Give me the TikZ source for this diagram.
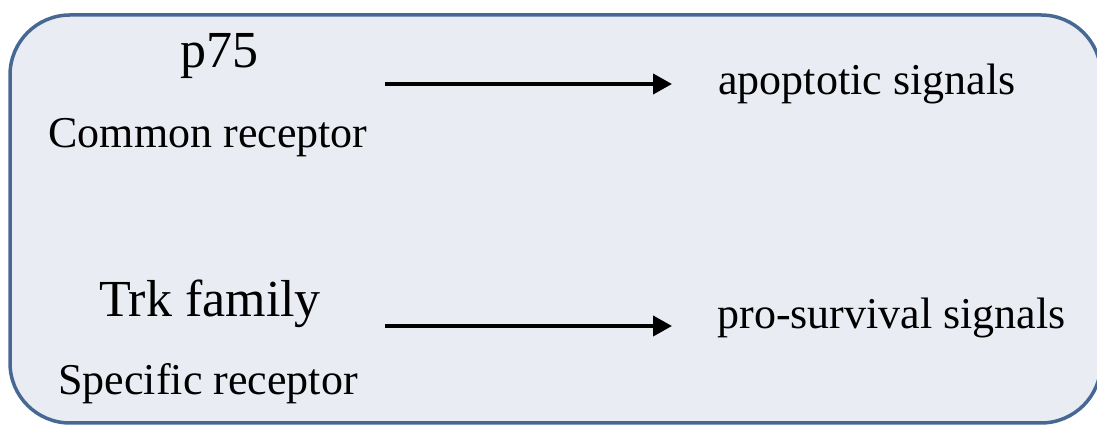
\documentclass[tikz,border=0pt]{standalone}
\usepackage{fontspec}
\setmainfont{Liberation Serif}
\usepackage{tikz}
\usetikzlibrary{arrows.meta,positioning}
\definecolor{panelfill}{RGB}{233,236,242}
\definecolor{paneldraw}{RGB}{72,104,148}

\begin{document}
\begin{tikzpicture}[x=0.5pt,y=-0.5pt,>={Triangle[length=9.5pt,width=10pt]},
  bigtxt/.style={inner sep=0pt,font=\fontsize{26}{30}\selectfont},
  smalltxt/.style={inner sep=0pt,font=\fontsize{22}{26}\selectfont},
  sig/.style={->,line width=2pt}]
\useasboundingbox (0,0) rectangle (1097,426);
\draw[paneldraw,fill=panelfill,line width=1.75pt,rounded corners=30pt] (10,15) rectangle (1101,423);
% receptors
\node[bigtxt,anchor=base] (p75) at (219,68) {p75};
\node[smalltxt,anchor=base] (common) at (208,148) {Common receptor};
\node[bigtxt,anchor=base] (trk) at (210,317) {Trk family};
\node[smalltxt,anchor=base] (specific) at (208,395) {Specific receptor};
% signals
\node[smalltxt,anchor=base west] (apo) at (718,95) {apoptotic signals};
\node[smalltxt,anchor=base west] (surv) at (717,329) {pro-survival signals};
\coordinate (s1) at (385,84);
\coordinate (s2) at (385,326);
\draw[sig,shorten >=23pt] (s1) -- (s1 -| apo.west);
\draw[sig,shorten >=22.5pt] (s2) -- (s2 -| surv.west);
\end{tikzpicture}
\end{document}
